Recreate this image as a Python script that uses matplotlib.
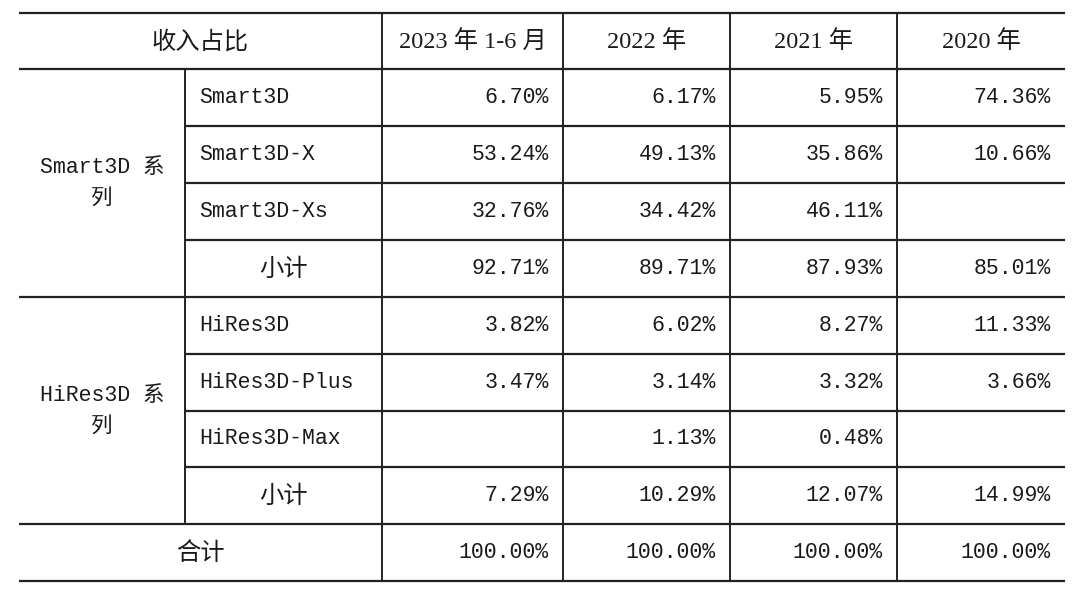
import matplotlib.pyplot as plt

periods = ["2023 年 1-6 月", "2022 年", "2021 年", "2020 年"]
groups = ["Smart3D 系\n列", "HiRes3D 系\n列"]
smart_items = ["Smart3D", "Smart3D-X", "Smart3D-Xs", "小计"]
hires_items = ["HiRes3D", "HiRes3D-Plus", "HiRes3D-Max", "小计"]

smart3d = [6.70, 6.17, 5.95, 74.36]
smart3d_x = [53.24, 49.13, 35.86, 10.66]
smart3d_xs = [32.76, 34.42, 46.11, None]
smart_sub = [92.71, 89.71, 87.93, 85.01]
hires3d = [3.82, 6.02, 8.27, 11.33]
hires3d_plus = [3.47, 3.14, 3.32, 3.66]
hires3d_max = [None, 1.13, 0.48, None]
hires_sub = [7.29, 10.29, 12.07, 14.99]
total = [100.00, 100.00, 100.00, 100.00]

rows = [smart3d, smart3d_x, smart3d_xs, smart_sub,
        hires3d, hires3d_plus, hires3d_max, hires_sub]
labels = smart_items + hires_items

# layout in pixels
x_left, x_right = 19, 1065
x_cols = [185, 382, 563, 730, 897]
y_lines = [13, 69, 126, 183, 240, 297, 354, 411, 467, 524, 581]
col_edges = x_cols[1:] + [x_right]   # edges of the 4 value columns

cjk = ["Noto Sans CJK SC"]
mono = ["Liberation Mono", "Noto Sans CJK SC"]
serif = ["Liberation Serif", "Noto Sans CJK SC"]
tc = "#1a1a1a"
lc = "#222222"

fig = plt.figure(figsize=(10.8, 5.89), dpi=100)
ax = fig.add_axes([0, 0, 1, 1])
ax.set_xlim(0, 1080)
ax.set_ylim(589, 0)
ax.axis("off")

# horizontal lines
for i, y in enumerate(y_lines):
    full = i in (0, 1, 5, 9, 10)
    x0 = x_left if full else x_cols[0]
    ax.plot([x0, x_right], [y, y], color=lc, lw=1.6, solid_capstyle="butt")

# vertical lines
ax.plot([x_cols[0], x_cols[0]], [y_lines[1], y_lines[9]], color=lc, lw=1.4)
for xc in x_cols[1:]:
    ax.plot([xc, xc], [y_lines[0], y_lines[10]], color=lc, lw=1.4)

# header
ax.text((x_left + x_cols[1]) / 2, 42, "收入占比", family=cjk, fontsize=17.5,
        ha="center", va="center", color=tc)
for j, p in enumerate(periods):
    xc = (col_edges[j] + col_edges[j + 1]) / 2
    ax.text(xc, 42, p, family=serif, fontsize=17.5, ha="center", va="center", color=tc)

# group labels
for g, (ya, yb) in zip(groups, [(y_lines[1], y_lines[5]), (y_lines[5], y_lines[9])]):
    ax.text((x_left + x_cols[0]) / 2, (ya + yb) / 2, g, family=mono, fontsize=15.5,
            ha="center", va="center", color=tc, linespacing=1.6)

# body rows
for i, (lab, vals) in enumerate(zip(labels, rows)):
    yc = (y_lines[i + 1] + y_lines[i + 2]) / 2
    if lab == "小计":
        ax.text((x_cols[0] + x_cols[1]) / 2, yc, lab, family=cjk, fontsize=17.5,
                ha="center", va="center", color=tc)
    else:
        ax.text(x_cols[0] + 14, yc, lab, family=mono, fontsize=15.5,
                ha="left", va="center", color=tc)
    for v, xr in zip(vals, col_edges[1:]):
        if v is not None:
            ax.text(xr - 14, yc, f"{v:.2f}%", family=mono, fontsize=15.5,
                    ha="right", va="center", color=tc)

# total row
yc = (y_lines[9] + y_lines[10]) / 2
ax.text((x_left + x_cols[1]) / 2, yc, "合计", family=cjk, fontsize=17.5,
        ha="center", va="center", color=tc)
for v, xr in zip(total, col_edges[1:]):
    ax.text(xr - 14, yc, f"{v:.2f}%", family=mono, fontsize=15.5,
            ha="right", va="center", color=tc)

fig.savefig("out.png", dpi=100, facecolor="white")
